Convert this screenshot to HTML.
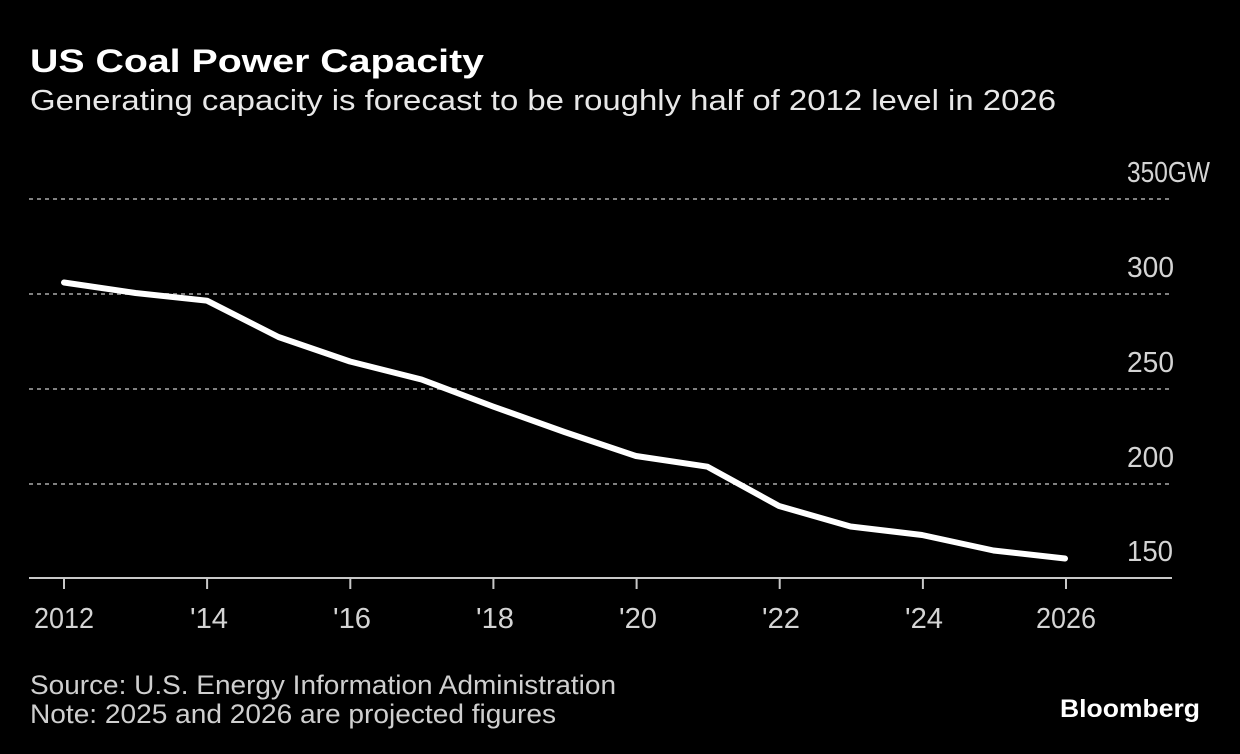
<!DOCTYPE html>
<html>
<head>
<meta charset="utf-8">
<style>
  html, body { margin: 0; padding: 0; background: #000; }
  body { width: 1240px; height: 754px; overflow: hidden; }
  svg { display: block; }
  text { font-family: "Liberation Sans", "DejaVu Sans", sans-serif; }
</style>
</head>
<body>
<svg width="1240" height="754" viewBox="0 0 1240 754" xmlns="http://www.w3.org/2000/svg">
  <rect x="0" y="0" width="1240" height="754" fill="#000"/>

  <!-- Title / subtitle -->
  <text x="30" y="72" font-size="32" font-weight="bold" fill="#ffffff" textLength="454" lengthAdjust="spacingAndGlyphs">US Coal Power Capacity</text>
  <text x="30" y="110" font-size="29" fill="#e8e8e8" textLength="1026" lengthAdjust="spacingAndGlyphs">Generating capacity is forecast to be roughly half of 2012 level in 2026</text>

  <!-- Gridlines -->
  <g stroke="#808080" stroke-width="2" stroke-dasharray="4 4">
    <line x1="29" y1="199" x2="1173" y2="199"/>
    <line x1="29" y1="294" x2="1173" y2="294"/>
    <line x1="29" y1="389" x2="1173" y2="389"/>
    <line x1="29" y1="484" x2="1173" y2="484"/>
  </g>

  <!-- Y labels -->
  <g font-size="29" fill="#d4d4d4">
    <text x="1127" y="182" textLength="83" lengthAdjust="spacingAndGlyphs">350GW</text>
    <text x="1127" y="277" textLength="47" lengthAdjust="spacingAndGlyphs">300</text>
    <text x="1127" y="372" textLength="47" lengthAdjust="spacingAndGlyphs">250</text>
    <text x="1127" y="467" textLength="47" lengthAdjust="spacingAndGlyphs">200</text>
    <text x="1127" y="561" textLength="46" lengthAdjust="spacingAndGlyphs">150</text>
  </g>

  <!-- Axis -->
  <line x1="29" y1="578" x2="1172" y2="578" stroke="#c8c8c8" stroke-width="2"/>
  <g stroke="#c8c8c8" stroke-width="2">
    <line x1="64" y1="578" x2="64" y2="589"/>
    <line x1="207.1" y1="578" x2="207.1" y2="589"/>
    <line x1="350.3" y1="578" x2="350.3" y2="589"/>
    <line x1="493.4" y1="578" x2="493.4" y2="589"/>
    <line x1="636.6" y1="578" x2="636.6" y2="589"/>
    <line x1="779.7" y1="578" x2="779.7" y2="589"/>
    <line x1="922.9" y1="578" x2="922.9" y2="589"/>
    <line x1="1066" y1="578" x2="1066" y2="589"/>
  </g>

  <!-- X labels -->
  <g font-size="29" fill="#d4d4d4" text-anchor="middle">
    <text x="64" y="628" textLength="60" lengthAdjust="spacingAndGlyphs">2012</text>
    <text x="209" y="628" textLength="38" lengthAdjust="spacingAndGlyphs">'14</text>
    <text x="352" y="628" textLength="38" lengthAdjust="spacingAndGlyphs">'16</text>
    <text x="495" y="628" textLength="38" lengthAdjust="spacingAndGlyphs">'18</text>
    <text x="638" y="628" textLength="38" lengthAdjust="spacingAndGlyphs">'20</text>
    <text x="781" y="628" textLength="38" lengthAdjust="spacingAndGlyphs">'22</text>
    <text x="924" y="628" textLength="38" lengthAdjust="spacingAndGlyphs">'24</text>
    <text x="1066" y="628" textLength="60" lengthAdjust="spacingAndGlyphs">2026</text>
  </g>

  <!-- Series -->
  <polyline fill="none" stroke="#ffffff" stroke-width="6" stroke-linejoin="round" stroke-linecap="round"
    points="64,282.5 135.5,293 207,300.7 278.5,337 350,361.5 421.5,379.5 493,406.5 564.5,432 636,456 707.5,466.7 779,506 850.5,526.5 922,535 993.5,550.5 1065,558.5"/>

  <!-- Footer -->
  <g font-size="27" fill="#cfcfcf">
    <text x="30" y="694" textLength="586" lengthAdjust="spacingAndGlyphs">Source: U.S. Energy Information Administration</text>
    <text x="30" y="723" textLength="526" lengthAdjust="spacingAndGlyphs">Note: 2025 and 2026 are projected figures</text>
  </g>
  <text x="1060" y="717" font-size="25" font-weight="bold" fill="#ffffff" textLength="140" lengthAdjust="spacingAndGlyphs">Bloomberg</text>
</svg>
</body>
</html>
